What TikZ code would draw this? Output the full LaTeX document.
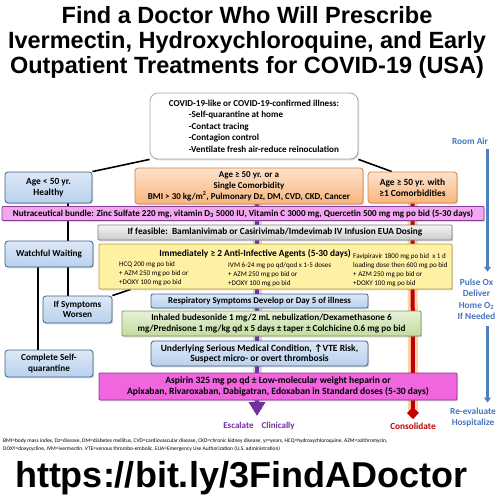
\documentclass[tikz,border=0pt]{standalone}
\usepackage{fontspec}
\setmainfont{Carlito}
\newfontfamily\headfont{Liberation Sans}
\usetikzlibrary{positioning,backgrounds,arrows.meta,calc,shadows}

\definecolor{blueTop}{HTML}{DCE8F6}
\definecolor{blueBottom}{HTML}{B9D1EE}
\definecolor{blueLine}{HTML}{3F5F8A}
\definecolor{orangeTop}{HTML}{FDE2CB}
\definecolor{orangeBottom}{HTML}{F9B57E}
\definecolor{orangeLine}{HTML}{D0843F}
\definecolor{pinkFill}{HTML}{F3A6F0}
\definecolor{pinkLine}{HTML}{8A3D98}
\definecolor{magentaFill}{HTML}{F066DE}
\definecolor{magentaLine}{HTML}{86378A}
\definecolor{grayTop}{HTML}{F4F4F4}
\definecolor{grayBottom}{HTML}{CBCBCB}
\definecolor{yellowFill}{HTML}{FFF1A3}
\definecolor{yellowLine}{HTML}{B79A3C}
\definecolor{greenTop}{HTML}{E6F1D8}
\definecolor{greenBottom}{HTML}{C2DC9E}
\definecolor{greenLine}{HTML}{7D9B4D}
\definecolor{escPurple}{HTML}{7030A0}
\definecolor{conRed}{HTML}{C00000}
\definecolor{monBlue}{HTML}{4674C0}
\definecolor{monArrow}{HTML}{4F81BD}

\newcommand{\boxfont}[1]{\fontsize{#1}{10.5}\selectfont\bfseries}

\tikzset{
	flowbox/.style={
		draw,
		rounded corners=3pt,
		align=center,
		inner sep=1pt,
		line width=0.8pt,
		font=\boxfont{9.2},
		drop shadow={shadow xshift=1.2pt, shadow yshift=-1.4pt, opacity=0.3}
	},
	flowWhite/.style={flowbox, fill=white, draw=gray!70, rounded corners=8pt},
	flowBlue/.style={flowbox, top color=blueTop, bottom color=blueBottom, draw=blueLine},
	flowOrange/.style={flowbox, top color=orangeTop, bottom color=orangeBottom, draw=orangeLine},
	flowPink/.style={flowbox, fill=pinkFill, draw=pinkLine, rounded corners=1pt},
	flowMagenta/.style={flowbox, fill=magentaFill, draw=magentaLine, rounded corners=1pt},
	flowGray/.style={flowbox, top color=grayTop, bottom color=grayBottom, draw=gray, rounded corners=1pt},
	flowYellow/.style={flowbox, fill=yellowFill, draw=yellowLine, rounded corners=1pt},
	flowGreen/.style={flowbox, top color=greenTop, bottom color=greenBottom, draw=greenLine, rounded corners=1pt},
	dosetext/.style={align=left, inner sep=0pt, font=\fontsize{7.1}{9}\selectfont},
	outcome/.style={inner sep=0pt, font=\fontsize{9.3}{11.5}\selectfont\bfseries},
	monitor/.style={outcome, align=center, text=monBlue},
	flowLink/.style={line width=1.6pt},
	escGlow/.style={line width=9pt, escPurple!22},
	escLine/.style={line width=4pt, escPurple, -{Triangle[width=16pt,length=14pt]}},
	conGlow/.style={line width=10pt, orange!35},
	conLine/.style={line width=4pt, conRed, -{Diamond[width=12pt,length=12pt]}},
	monLine/.style={line width=3pt, monArrow, -{Triangle[width=7pt,length=5pt]}}
}

\begin{document}
\begin{tikzpicture}[x=1pt,y=-1pt]
	\useasboundingbox (0,0) rectangle (498,500);

	% Heading
	\node[align=center, inner sep=0pt, font=\headfont\fontsize{23.5}{25}\selectfont\bfseries] (title) at (247,42)
	{Find a Doctor Who Will Prescribe\\Ivermectin, Hydroxychloroquine, and Early\\Outpatient Treatments for COVID-19 (USA)};

	% Illness and risk groups
	\node[flowWhite, minimum width=208pt, minimum height=66pt, align=left, font=\fontsize{9.1}{11.5}\selectfont\bfseries] (illness) at (254,126)
	{COVID-19-like or COVID-19-confirmed illness:\\
		\hspace*{20pt}-Self-quarantine at home\\
		\hspace*{20pt}-Contact tracing\\
		\hspace*{20pt}-Contagion control\\
		\hspace*{20pt}-Ventilate fresh air-reduce reinoculation};

	\node[flowBlue, minimum width=87pt, minimum height=31pt, font=\fontsize{9.4}{11}\selectfont\bfseries] (healthy) at (48.5,187.5)
	{Age < 50 yr.\\Healthy};
	\node[flowOrange, minimum width=228pt, minimum height=36pt, font=\fontsize{9}{11}\selectfont\bfseries] (single) at (249,186)
	{Age ≥ 50 yr. or a\\Single Comorbidity\\BMI > 30 kg/m\textsuperscript{2}, Pulmonary Dz, DM, CVD, CKD, Cancer};
	\node[flowOrange, minimum width=89pt, minimum height=31pt, font=\fontsize{9.4}{11}\selectfont\bfseries] (multi) at (412.5,187.5)
	{Age ≥ 50 yr. with\\≥1 Comorbidities};

	% Treatment steps
	\node[flowPink, minimum width=482pt, minimum height=14pt, font=\boxfont{9.05}] (nutra) at (243,213.5)
	{Nutraceutical bundle: Zinc Sulfate 220 mg, vitamin D\textsubscript{3} 5000 IU, Vitamin C 3000 mg, Quercetin 500 mg mg po bid (5-30 days)};
	\node[flowGray, minimum width=354pt, minimum height=15pt, font=\boxfont{9.3}] (feasible) at (275,232.5)
	{If feasible:\ \ Bamlanivimab or Casirivimab/Imdevimab IV Infusion EUA Dosing};

	\node[flowYellow, minimum width=353pt, minimum height=45pt] (anti) at (275.5,266.5) {};
	\node[outcome, font=\boxfont{9.4}] (antititle) at (255,254)
	{Immediately ≥ 2 Anti-Infective Agents (5-30 days)};
	\node[dosetext, anchor=west] (hcq) at (119,273.5)
	{HCQ 200 mg po bid\\+ AZM 250 mg po bid or\\+DOXY 100 mg po bid};
	\node[dosetext, anchor=west] (ivm) at (228,275)
	{IVM 6-24 mg po qd/qod x 1-5 doses\\+ AZM 250 mg po bid or\\+DOXY 100 mg po bid};
	\node[dosetext, anchor=west] (favi) at (353,270.5)
	{Favipiravir 1800 mg po bid\ \ x 1 d\\loading dose then 600 mg po bid\\+ AZM 250 mg po bid or\\+DOXY 100 mg po bid};

	\node[flowBlue, minimum width=217pt, minimum height=14pt, rounded corners=2pt, font=\boxfont{8.9}] (resp) at (259.5,301)
	{Respiratory Symptoms Develop or Day 5 of illness};
	\node[flowGreen, minimum width=299pt, minimum height=25pt] (inhaled) at (271.5,323.5)
	{Inhaled budesonide 1 mg/2 mL nebulization/Dexamethasone 6\\mg/Prednisone 1 mg/kg qd x 5 days ± taper ± Colchicine 0.6 mg po bid};
	\node[flowBlue, minimum width=217pt, minimum height=25pt, font=\boxfont{9.5}] (underlying) at (259.5,353.5)
	{Underlying Serious Medical Condition, ↑VTE Risk,\\Suspect micro- or overt thrombosis};
	\node[flowMagenta, minimum width=358pt, minimum height=27pt, font=\boxfont{9.6}] (aspirin) at (278,386.5)
	{Aspirin 325 mg po qd ± Low-molecular weight heparin or\\Apixaban, Rivaroxaban, Dabigatran, Edoxaban in Standard doses (5-30 days)};

	% Low-risk path
	\node[flowBlue, minimum width=88pt, minimum height=26pt] (watch) at (49,254) {Watchful Waiting};
	\node[flowBlue, minimum width=69pt, minimum height=27pt] (worsen) at (77.5,309.5) {If Symptoms\\Worsen};
	\node[flowBlue, minimum width=88pt, minimum height=27pt] (selfq) at (49,363.5) {Complete Self-\\quarantine};

	% Outcomes and oxygen monitoring
	\node[outcome, text=escPurple, font=\fontsize{9}{11}\selectfont\bfseries] (escalate) at (259,426) {Escalate\hspace{6pt} Clinically};
	\node[outcome, text=conRed] (consolidate) at (413,426) {Consolidate};
	\node[monitor] (roomair) at (470,141) {Room Air};
	\node[monitor] (pulse) at (476.5,299.5) {Pulse Ox\\Deliver\\Home O\textsubscript{2}\\If Needed};
	\node[monitor] (reeval) at (473,417.5) {Re-evaluate\\Hospitalize};

	% Footnote and link
	\node[anchor=north west, align=left, inner sep=0pt, font=\fontsize{5.5}{8}\selectfont] (abbrev) at (3,438)
	{BMI=body mass index, Dz=disease, DM=diabetes mellitus, CVD=cardiovascular disease, CKD=chronic kidney disease, yr=years, HCQ=hydroxychloroquine, AZM=azithromycin,\\
		DOXY=doxycycline, IVM=ivermectin, VTE=venous thrombo-embolic, EUA=Emergency Use Authorization (U.S. administration)};
	\node[inner sep=0pt, font=\headfont\fontsize{36}{40}\selectfont\bfseries] (link) at (241,478) {https://bit.ly/3FindADoctor};

	% Lanes
	\coordinate (escEnd) at (257,416);
	\coordinate (conEnd) at (413,419);
	\coordinate (laneA) at (68,0);
	\coordinate (laneB) at (38,0);
	\coordinate (oxLane) at (487.5,0);

	% Flows
	\begin{scope}[on background layer]
		\draw[escGlow] (single.south -| escEnd) -- ($(escEnd)+(0,-6)$);
		\draw[escLine] (single.south -| escEnd) -- (escEnd);
		\draw[conGlow] (multi.south) -- ($(conEnd)+(0,-6)$);
		\draw[conLine] (multi.south) -- (conEnd);

		\draw[flowLink] (illness.south west) -- (healthy.north east);
		\draw[flowLink] (illness.south east) -- ($(multi.north west)!0.27!(multi.north east)$);
		\draw[flowLink] (healthy.south -| laneA) -- (watch.north -| laneA);
		\draw[flowLink] (watch.south -| laneA) -- (worsen.north -| laneA);
		\draw[flowLink] (watch.south -| laneB) -- (selfq.north -| laneB);
		\draw[flowLink] (worsen.north east) -- ($(anti.south west)+(32,0)$);
	\end{scope}

	\draw[monLine] ($(roomair.south -| oxLane)+(0,5)$) -- ($(pulse.north -| oxLane)+(0,-7)$);
	\draw[monLine] ($(pulse.south -| oxLane)+(0,6)$) -- ($(reeval.north -| oxLane)+(0,-5)$);

\end{tikzpicture}
\end{document}
